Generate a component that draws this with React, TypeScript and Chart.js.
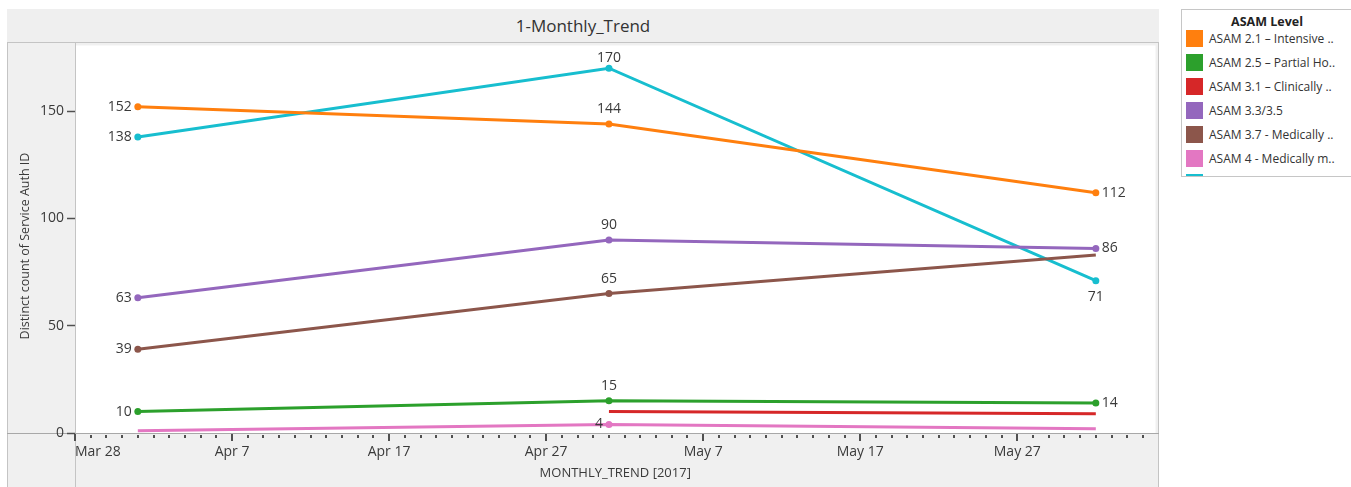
import React, { useEffect, useRef } from 'react';
import { Chart, registerables } from 'chart.js';

Chart.register(...registerables);

const FONT = '"Open Sans", "Noto Sans", sans-serif';
const TEXT_COLOR = '#3a3a3a';

// Time axis: day offsets counted from the first axis date
const axisStartDate = '2017-03-28';
const monthDates = ['2017-04-01', '2017-05-01', '2017-06-01'];
const axisEndDay = 68.8;
const majorTickStep = 10;
const monthAbbr = ['Jan', 'Feb', 'Mar', 'Apr', 'May', 'Jun', 'Jul', 'Aug', 'Sep', 'Oct', 'Nov', 'Dec'];

// Value axis
const yTickValues = [0, 50, 100, 150];
const yAxisMax = 180.6;

const chartTitle = '1-Monthly_Trend';
const legendTitle = 'ASAM Level';
const xAxisTitle = 'MONTHLY_TREND [2017]';
const yAxisTitle = 'Distinct count of Service Auth ID';

const seriesNames = [
  'ASAM 2.1 – Intensive ..',
  'ASAM 2.5 – Partial Ho..',
  'ASAM 3.1 – Clinically ..',
  'ASAM 3.3/3.5',
  'ASAM 3.7 - Medically ..',
  'ASAM 4 - Medically m..',
  'ASAM 3.7 WM ..',
];
const seriesColors = ['#ff7f0e', '#2ca02c', '#d62728', '#9467bd', '#8c564b', '#e377c2', '#17becf'];

// Distinct counts per month (Apr, May, Jun)
const asam21Intensive = [152, 144, 112];
const asam25Partial = [10, 15, 14];
const asam31Clinical = [null, 10, 9];
const asam33_35 = [63, 90, 86];
const asam37Medical = [39, 65, 83];
const asam4Medical = [1, 4, 2];
const asam37Wm = [138, 170, 71];
const seriesValues: (number | null)[][] = [
  asam21Intensive,
  asam25Partial,
  asam31Clinical,
  asam33_35,
  asam37Medical,
  asam4Medical,
  asam37Wm,
];

// Which side each mark label sits on (null = no label / no marker)
type Side = 'left' | 'right' | 'top' | 'bottom' | null;
const labelSides: Side[][] = [
  ['left', 'top', 'right'],
  ['left', 'top', 'right'],
  [null, null, null],
  ['left', 'top', 'right'],
  ['left', 'top', null],
  [null, 'left', null],
  ['left', 'top', 'bottom'],
];

const DAY_MS = 86400000;
const dayOf = (iso: string) => (Date.parse(iso) - Date.parse(axisStartDate)) / DAY_MS;
const formatDay = (d: number) => {
  const dt = new Date(Date.parse(axisStartDate) + d * DAY_MS);
  return `${monthAbbr[dt.getUTCMonth()]} ${dt.getUTCDate()}`;
};

const framePlugin = {
  id: 'frame',
  beforeDraw(chart: any) {
    const { ctx, width, height, chartArea } = chart;
    ctx.save();
    ctx.fillStyle = '#f0f0f0';
    ctx.fillRect(0, 0, width, height);
    ctx.fillStyle = '#ffffff';
    ctx.fillRect(chartArea.left, chartArea.top, chartArea.right - chartArea.left, chartArea.bottom - chartArea.top);
    ctx.strokeStyle = '#c4c4c4';
    ctx.lineWidth = 1;
    ctx.beginPath();
    ctx.moveTo(0, 0.5);
    ctx.lineTo(width, 0.5);
    ctx.moveTo(0.5, 0);
    ctx.lineTo(0.5, height);
    ctx.moveTo(Math.round(chartArea.left) + 0.5, 0);
    ctx.lineTo(Math.round(chartArea.left) + 0.5, height);
    ctx.moveTo(width - 0.5, 0);
    ctx.lineTo(width - 0.5, height);
    ctx.stroke();
    ctx.strokeStyle = '#a8a8a8';
    ctx.beginPath();
    ctx.moveTo(0, Math.round(chartArea.bottom) + 0.5);
    ctx.lineTo(width, Math.round(chartArea.bottom) + 0.5);
    ctx.stroke();
    ctx.restore();
  },
  afterDraw(chart: any) {
    const { ctx, chartArea, height } = chart;
    const xs = chart.scales.x;
    ctx.save();
    // day tick marks under the time axis
    ctx.fillStyle = '#505050';
    const bottom = Math.round(chartArea.bottom);
    for (let d = 0; d <= Math.floor(axisEndDay); d++) {
      const x = Math.round(xs.getPixelForValue(d));
      if (d % majorTickStep === 0) ctx.fillRect(x - 1, bottom + 1, 2, 7);
      else ctx.fillRect(x - 1, bottom + 2, 2, 3);
    }
    // axis titles
    ctx.fillStyle = TEXT_COLOR;
    ctx.font = `13px ${FONT}`;
    ctx.textAlign = 'center';
    ctx.textBaseline = 'middle';
    ctx.fillText(xAxisTitle, (chartArea.left + chartArea.right) / 2, height - 14);
    ctx.translate(18, 204);
    ctx.rotate(-Math.PI / 2);
    ctx.font = `12.5px ${FONT}`;
    ctx.fillText(yAxisTitle, 0, 0);
    ctx.restore();
  },
};

const markLabelPlugin = {
  id: 'markLabels',
  afterDatasetsDraw(chart: any) {
    const { ctx, chartArea } = chart;
    ctx.save();
    ctx.font = `14px ${FONT}`;
    ctx.fillStyle = TEXT_COLOR;
    seriesValues.forEach((vals, i) => {
      const meta = chart.getDatasetMeta(i);
      vals.forEach((v, j) => {
        const side = labelSides[i][j];
        if (v === null || !side) return;
        const pt = meta.data[j];
        const text = String(v);
        ctx.textBaseline = 'middle';
        if (side === 'left') {
          ctx.textAlign = 'right';
          ctx.fillText(text, pt.x - 6, pt.y);
        } else if (side === 'right') {
          ctx.textAlign = 'left';
          ctx.fillText(text, pt.x + 6, pt.y);
        } else if (side === 'top') {
          ctx.textAlign = 'center';
          ctx.fillText(text, pt.x, Math.max(pt.y - 15, chartArea.top + 13));
        } else {
          ctx.textAlign = 'center';
          ctx.fillText(text, pt.x, pt.y + 16);
        }
      });
    });
    ctx.restore();
  },
};

export default function App() {
  const canvasRef = useRef<HTMLCanvasElement | null>(null);

  useEffect(() => {
    const canvas = canvasRef.current;
    if (!canvas) return;
    const chart = new Chart(canvas, {
      type: 'line',
      data: {
        datasets: seriesValues.map((vals, i) => ({
          label: seriesNames[i],
          data: vals.map((v, j) => ({ x: dayOf(monthDates[j]), y: v })),
          borderColor: seriesColors[i],
          backgroundColor: seriesColors[i],
          borderWidth: 3,
          pointRadius: labelSides[i].map((s) => (s ? 3.5 : 0)),
          pointBorderWidth: 0,
          pointHoverRadius: 0,
          tension: 0,
          spanGaps: false,
        })),
      },
      options: {
        animation: false,
        responsive: false,
        maintainAspectRatio: false,
        events: [],
        layout: { padding: 0 },
        plugins: {
          legend: { display: false },
          tooltip: { enabled: false },
          title: { display: false },
        },
        scales: {
          x: {
            type: 'linear',
            min: 0,
            max: axisEndDay,
            afterBuildTicks: (s: any) => {
              const t = [];
              for (let d = 0; d <= Math.floor(axisEndDay); d++) t.push({ value: d });
              s.ticks = t;
            },
            afterFit: (s: any) => {
              s.height = 54;
              s.paddingLeft = 0;
              s.paddingRight = 0;
              s.paddingTop = 0;
              s.paddingBottom = 0;
            },
            grid: { display: false, drawTicks: false },
            border: { display: false },
            ticks: {
              callback: (v: any) => (Number(v) % majorTickStep === 0 ? formatDay(Number(v)) : ''),
              font: { family: FONT, size: 14 },
              color: TEXT_COLOR,
              padding: 11,
              maxRotation: 0,
              autoSkip: false,
              align: 'inner',
            },
          },
          y: {
            type: 'linear',
            min: 0,
            max: yAxisMax,
            afterBuildTicks: (s: any) => {
              s.ticks = yTickValues.map((v) => ({ value: v }));
            },
            afterFit: (s: any) => {
              s.width = 68;
              s.paddingLeft = 0;
              s.paddingRight = 0;
              s.paddingTop = 0;
              s.paddingBottom = 0;
            },
            grid: { drawOnChartArea: false, drawTicks: true, tickLength: 8, tickColor: '#505050', tickWidth: 1.5 },
            border: { display: false },
            ticks: {
              font: { family: FONT, size: 14 },
              color: TEXT_COLOR,
              padding: 3,
            },
          },
        },
      } as any,
      plugins: [framePlugin, markLabelPlugin],
    });
    return () => chart.destroy();
  }, []);

  return (
    <div
      style={{
        position: 'absolute',
        left: 0,
        top: 0,
        width: 1351,
        height: 487,
        overflow: 'hidden',
        background: '#ffffff',
        fontFamily: FONT,
      }}
    >
      <div
        style={{
          position: 'absolute',
          left: 7,
          top: 9,
          width: 1152,
          height: 33,
          background: '#efefef',
          color: '#333',
          fontSize: 17,
          lineHeight: '33px',
          textAlign: 'center',
        }}
      >
        {chartTitle}
      </div>
      <canvas
        ref={canvasRef}
        width={1152}
        height={445}
        style={{ position: 'absolute', left: 7, top: 42, width: 1152, height: 445 }}
      />
      <div
        style={{
          position: 'absolute',
          left: 1181,
          top: 9,
          width: 172,
          height: 168,
          boxSizing: 'border-box',
          border: '1px solid #c6c6c6',
          background: '#fff',
          overflow: 'hidden',
        }}
      >
        <div
          style={{
            position: 'absolute',
            left: 0,
            top: 4,
            width: '100%',
            textAlign: 'center',
            fontWeight: 700,
            fontSize: 12.5,
            color: '#222',
            lineHeight: '16px',
          }}
        >
          {legendTitle}
        </div>
        {seriesNames.map((name, i) => (
          <div key={name} style={{ position: 'absolute', left: 4, top: 20 + i * 24, height: 18, whiteSpace: 'nowrap' }}>
            <div
              style={{
                position: 'absolute',
                left: 0,
                top: 0,
                width: 17,
                height: 17,
                background: seriesColors[i],
              }}
            />
            <div
              style={{
                position: 'absolute',
                left: 23,
                top: 0,
                lineHeight: '17px',
                fontSize: 12,
                color: '#333',
              }}
            >
              {name}
            </div>
          </div>
        ))}
      </div>
    </div>
  );
}
